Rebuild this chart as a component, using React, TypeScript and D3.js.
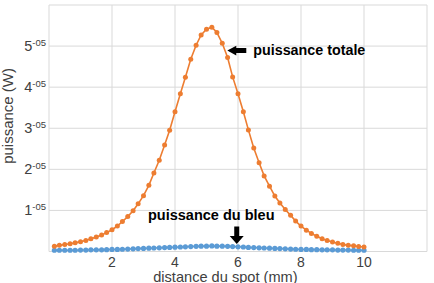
import React from "react";
import * as d3 from "d3";

const distance = [
  0.17, 0.33, 0.5, 0.67, 0.83, 1.0, 1.17, 1.33, 1.5, 1.67,
  1.83, 2.0, 2.17, 2.33, 2.5, 2.67, 2.83, 3.0, 3.17, 3.33,
  3.5, 3.67, 3.83, 4.0, 4.17, 4.33, 4.5, 4.67, 4.83, 5.0,
  5.17, 5.33, 5.5, 5.67, 5.83, 6.0, 6.17, 6.33, 6.5, 6.67,
  6.83, 7.0, 7.17, 7.33, 7.5, 7.67, 7.83, 8.0, 8.17, 8.33,
  8.5, 8.67, 8.83, 9.0, 9.17, 9.33, 9.5, 9.67, 9.83, 10.0,
];

// values in units of 1e-5 W
const totale = [
  0.13, 0.15, 0.17, 0.19, 0.21, 0.24, 0.27, 0.31, 0.35, 0.4,
  0.46, 0.53, 0.62, 0.73, 0.85, 0.99, 1.16, 1.36, 1.61, 1.91,
  2.22, 2.59, 2.95, 3.4, 3.84, 4.24, 4.68, 5.02, 5.27, 5.41,
  5.46, 5.33, 5.07, 4.72, 4.25, 3.84, 3.4, 2.96, 2.52, 2.16,
  1.84, 1.59, 1.35, 1.18, 1.02, 0.88, 0.74, 0.62, 0.52, 0.44,
  0.37, 0.31, 0.27, 0.23, 0.2, 0.17, 0.15, 0.14, 0.12, 0.11,
];

const bleu = [
  0.03, 0.03, 0.03, 0.03, 0.03, 0.035, 0.035, 0.04, 0.04, 0.04,
  0.045, 0.05, 0.05, 0.055, 0.06, 0.065, 0.07, 0.075, 0.08, 0.085,
  0.09, 0.095, 0.1, 0.105, 0.11, 0.115, 0.12, 0.125, 0.13, 0.13,
  0.135, 0.13, 0.13, 0.125, 0.12, 0.115, 0.11, 0.1, 0.095, 0.09,
  0.085, 0.08, 0.075, 0.07, 0.065, 0.06, 0.055, 0.05, 0.05, 0.045,
  0.045, 0.04, 0.04, 0.04, 0.035, 0.035, 0.035, 0.03, 0.03, 0.03,
];

const xGrid = [0, 2, 4, 6, 8, 10, 12];
const xTickLabels = [2, 4, 6, 8, 10];
const yGrid = [0, 1, 2, 3, 4, 5, 6];
const yTickLabels = [1, 2, 3, 4, 5];

const FONT = "'Liberation Sans', Arial, sans-serif";
const ORANGE = "#ED7D31";
const BLUE = "#5B9BD5";
const GRID = "#D9D9D9";
const TEXT = "#404040";

export default function App() {
  const W = 434;
  const H = 283;
  const x = d3.scaleLinear().domain([0, 12]).range([49, 427]);
  const y = d3.scaleLinear().domain([0, 6]).range([251.5, 5]);

  const line = d3
    .line<number>()
    .x((_, i) => x(distance[i]))
    .y((d) => y(d));

  // annotation anchors (data units)
  const tipL = { x: x(5.66), y: y(4.89) };
  const tipD = { x: x(5.96), y: y(0.18) };

  const leftArrow = `M${tipL.x},${tipL.y} L${tipL.x + 9},${tipL.y - 4.8} L${tipL.x + 9},${tipL.y - 2.5} L${tipL.x + 19},${tipL.y - 2.5} L${tipL.x + 19},${tipL.y + 2.5} L${tipL.x + 9},${tipL.y + 2.5} L${tipL.x + 9},${tipL.y + 4.8} Z`;
  const downArrow = `M${tipD.x},${tipD.y} L${tipD.x - 7},${tipD.y - 8} L${tipD.x - 2.5},${tipD.y - 8} L${tipD.x - 2.5},${tipD.y - 17.5} L${tipD.x + 2.5},${tipD.y - 17.5} L${tipD.x + 2.5},${tipD.y - 8} L${tipD.x + 7},${tipD.y - 8} Z`;

  return (
    <svg
      width={W}
      height={H}
      style={{ position: "absolute", left: 0, top: 0, background: "#fff" }}
      fontFamily={FONT}
    >
      <rect x={0} y={0} width={W} height={H} fill="#fff" />
      {xGrid.map((t) => (
        <line key={"gx" + t} x1={x(t)} x2={x(t)} y1={y(0)} y2={y(6)} stroke={GRID} strokeWidth={1} />
      ))}
      {yGrid.map((t) => (
        <line key={"gy" + t} x1={x(0)} x2={x(12)} y1={y(t)} y2={y(t)} stroke={GRID} strokeWidth={1} />
      ))}

      {xTickLabels.map((t) => (
        <text key={"xl" + t} x={x(t)} y={267} textAnchor="middle" fontSize={14} fill={TEXT}>
          {t}
        </text>
      ))}
      {yTickLabels.map((t) => (
        <text key={"yl" + t} x={46} y={y(t) + 5} textAnchor="end" fontSize={14.5} fill={TEXT}>
          <tspan>{t}</tspan>
          <tspan fontSize={9.5} dy={-5.5}>-05</tspan>
        </text>
      ))}

      <text x={x(5.6)} y={281.5} textAnchor="middle" fontSize={14.6} fill={TEXT}>
        distance du spot (mm)
      </text>
      <text
        transform={`translate(12.5, ${y(3.3)}) rotate(-90)`}
        textAnchor="middle"
        fontSize={15}
        fill={TEXT}
      >
        puissance (W)
      </text>

      <path d={line(bleu) ?? ""} fill="none" stroke={BLUE} strokeWidth={1.6} />
      {bleu.map((v, i) => (
        <circle key={"b" + i} cx={x(distance[i])} cy={y(v)} r={2.6} fill={BLUE} />
      ))}
      <path d={line(totale) ?? ""} fill="none" stroke={ORANGE} strokeWidth={1.6} />
      {totale.map((v, i) => (
        <circle key={"o" + i} cx={x(distance[i])} cy={y(v)} r={2.5} fill={ORANGE} />
      ))}

      <path d={leftArrow} fill="#000" />
      <text x={tipL.x + 26} y={tipL.y + 4.8} fontSize={14.3} fontWeight="bold" fill="#000">
        puissance totale
      </text>
      <path d={downArrow} fill="#000" />
      <text x={148} y={219.5} fontSize={14.5} fontWeight="bold" fill="#000">
        puissance du bleu
      </text>
    </svg>
  );
}
